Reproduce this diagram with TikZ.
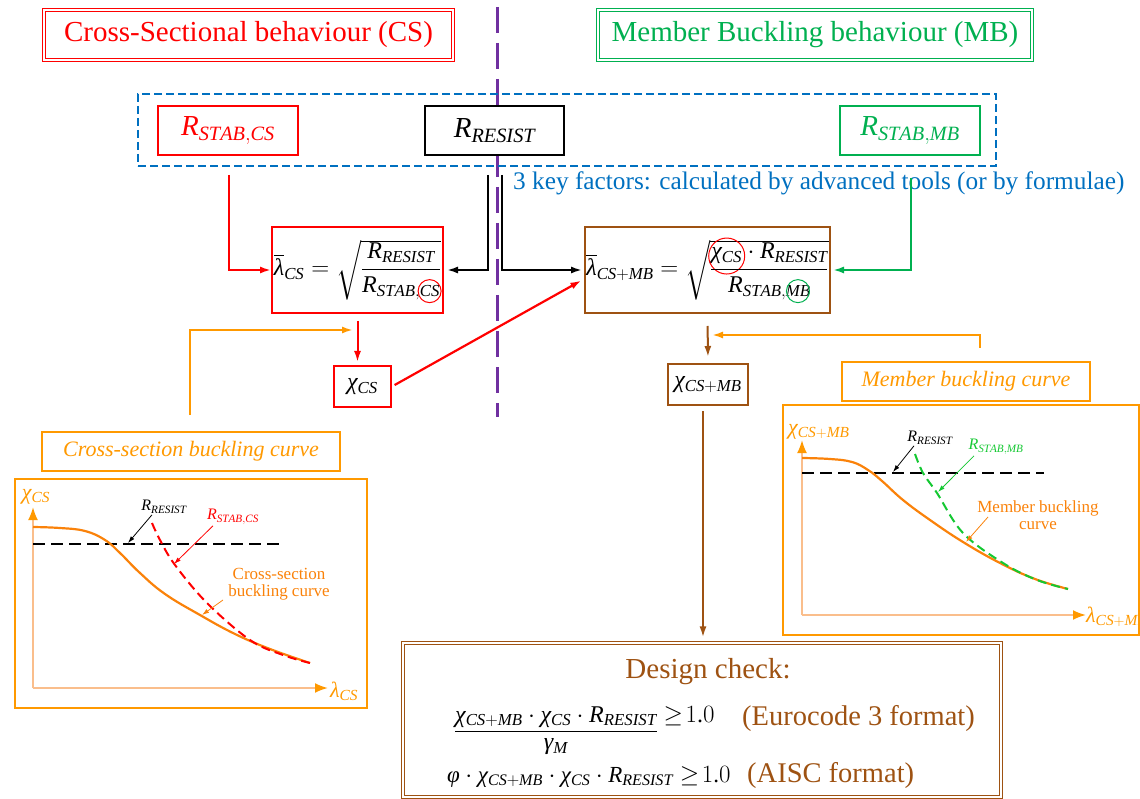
\documentclass[tikz,border=0pt]{standalone}
\usepackage{exscale}
\usepackage{fontspec}
\setmainfont{Liberation Serif}[NFSSFamily=libser]
\DeclareSymbolFont{tletters}{TU}{libser}{m}{it}
\DeclareSymbolFont{tup}{TU}{libser}{m}{n}
\newcount\mylc
\mylc=`A \loop \Umathcode\mylc="7 \symtletters\mylc \ifnum\mylc<`Z \advance\mylc 1 \repeat
\mylc=`a \loop \Umathcode\mylc="7 \symtletters\mylc \ifnum\mylc<`z \advance\mylc 1 \repeat
\mylc=`0 \loop \Umathcode\mylc="7 \symtup\mylc \ifnum\mylc<`9 \advance\mylc 1 \repeat
\Umathcode`.="0 \symtup `.
\Umathchardef\chi="7 \symtletters "03C7
\Umathchardef\lambda="7 \symtletters "03BB
\Umathchardef\gamma="7 \symtletters "03B3
\Umathchardef\phi="7 \symtletters "03C6
\usetikzlibrary{arrows.meta,calc}
\definecolor{cred}{RGB}{255,0,0}
\definecolor{cgreen}{RGB}{0,176,80}
\definecolor{cgreenl}{RGB}{20,200,50}
\definecolor{cblue}{RGB}{0,112,192}
\definecolor{corange}{RGB}{255,153,0}
\definecolor{ccurve}{RGB}{250,130,10}
\definecolor{caxis}{RGB}{250,190,140}
\definecolor{cbrown}{RGB}{158,82,18}
\definecolor{cpurple}{RGB}{112,48,160}
\newcommand\fsz[1]{\fontsize{#1}{#1}\selectfont}
\tikzset{plainn/.style={draw=none,fill=none,inner sep=0pt,outer sep=0pt,minimum width=0pt,minimum height=0pt,anchor=center}}
\newcommand\circover[3]{\tikz[baseline=(cc.base)]{\node[plainn](cc){#3};\draw[draw=#1,line width=1pt,overlay] (cc.center) circle[radius=#2];}}
\begin{document}
\begin{tikzpicture}[x=1pt,y=-1pt,
  hdr/.style={draw,line width=1.1pt,double=white,double distance=1.6pt,fill=white,minimum height=50,inner sep=0pt,font=\fsz{29}},
  kbox/.style={draw,line width=2pt,fill=white,minimum height=49,minimum width=140,inner sep=0pt,font=\fsz{29}},
  fbox/.style={draw,line width=2pt,fill=white,inner sep=0pt,font=\fsz{24}},
  lbl/.style={draw=corange,line width=2pt,text=corange,fill=white,inner sep=0pt,minimum height=39,font=\fsz{22}\itshape},
  arr/.style={-{Latex[length=11pt,width=7pt]},line width=2pt},
  sarr/.style={-{Latex[length=7pt,width=4.5pt]},line width=0.8pt},
  axis/.style={caxis,line width=2pt,-{Latex[length=13pt,width=10pt,color=corange]}},
  refline/.style={black,line width=1.6pt,dash pattern=on 12pt off 6pt},
  small/.style={font=\fsz{16},inner sep=1pt}
]
\useasboundingbox (0,0) rectangle (1140,799);

% divider
\draw[cpurple,line width=3pt,dash pattern=on 26pt off 10pt] (497,7) -- (497,417);

% headers
\node[hdr,draw=cred,text=cred,minimum width=409] (hcs) at (248.5,35) {Cross-Sectional behaviour (CS)};
\node[hdr,draw=cgreen,text=cgreen,minimum width=434] (hmb) at (815,35) {Member Buckling behaviour (MB)};

% key factors
\node[draw=cblue,line width=2pt,dash pattern=on 8pt off 4pt,minimum width=858,minimum height=72,inner sep=0pt] (keyarea) at (567,130) {};
\node[kbox,draw=cred,text=cred] (rcs) at (228,130.5) {$R_{STAB,CS}$};
\node[kbox,draw=black,minimum width=139] (rres) at (494.5,130.5) {$R_{RESIST}$};
\node[kbox,draw=cgreen,text=cgreen] (rmbk) at (910,130.5) {$R_{STAB,MB}$};
\node[text=cblue,font=\fsz{25.3},anchor=west,inner sep=0pt] (keytxt) at (513,183) {3 key factors: calculated by advanced tools (or by formulae)};

% formula boxes
\node[fbox,draw=cred,minimum width=171,minimum height=86] (lcs) at (357.5,270)
  {$\overline{\lambda}_{CS}=\sqrt{\displaystyle\frac{R_{RESIST}}{R_{STAB,\circover{cred}{11.5}{$\scriptstyle CS$}}}}$};
\node[fbox,draw=cbrown,minimum width=245,minimum height=86] (rmb) at (707.5,270)
  {$\overline{\lambda}_{CS+MB}=\sqrt{\displaystyle\frac{\circover{cred}{18}{$\chi_{CS}$}\cdot R_{RESIST}}{R_{STAB,\circover{cgreen}{11.5}{$\scriptstyle MB$}}}}$};
\node[fbox,draw=cred,minimum width=57,minimum height=41] (chics) at (362.5,386.5) {$\chi_{CS}$};
\node[fbox,draw=cbrown,minimum width=80,minimum height=41] (chimb) at (708,384.5) {$\chi_{CS+MB}$};

% connector coordinates
\coordinate (rcsout) at (229,175);
\coordinate (resoutl) at (488,175);
\coordinate (resoutr) at (502,175);
\coordinate (mbout) at (911,178);
\coordinate (cso) at (190,415);
\coordinate (csend) at (353,330);
\coordinate (mbo) at (980,348);
\coordinate (mbend) at (712,335);

\draw[arr,cred] (rcsout) |- (lcs.west);
\draw[arr,black,shorten >=3pt] (resoutl) |- (lcs.east);
\draw[arr,black,shorten >=2pt] (resoutr) |- (rmb.west);
\draw[arr,cgreen,shorten >=2pt] (mbout) |- (rmb.east);
\draw[arr,cred,shorten <=7pt,shorten >=3pt] (lcs.south) -- (lcs.south |- chics.north);
\draw[arr,corange] (cso) |- (csend);
\draw[arr,cred,line width=2.2pt,shorten <=3pt,shorten >=3pt] (chics.east) -- ([yshift=-9pt]rmb.west);
\draw[arr,cbrown,shorten <=12pt,shorten >=6pt] (rmb.south) -- (chimb.north);
\draw[arr,corange] (mbo) |- (mbend);

% labels of the charts
\node[lbl,minimum width=298] (cslbl) at (191,451.5) {Cross-section buckling curve};
\node[lbl,minimum width=248] (mblbl) at (966,381.5) {Member buckling curve};

% left chart
\draw[corange,line width=2pt] (15,479) rectangle (367,708);
\draw[axis] (33,688) -- (33,507);
\draw[axis] (33,688) -- (328,688);
\node[text=corange,font=\fsz{22},inner sep=0pt] (lya) at (36,497) {$\chi_{CS}$};
\node[text=corange,font=\fsz{22},inner sep=0pt] (lxa) at (344,691) {$\lambda_{CS}$};
\draw[refline] (33,544) -- (284,544);
\draw[ccurve,line width=2.2pt] plot[smooth,tension=0.7] coordinates {(33,527) (60,528) (85,531) (105,540) (120,553) (140,573) (165,594) (200,615) (235,634) (270,649) (310,663)};
\draw[cred,line width=2pt,dash pattern=on 9pt off 5pt] plot[smooth,tension=0.6] coordinates {(152,523) (160,540) (175,565) (207,603) (250,640) (283,655) (310,663)};
\node[small] (lres) at (164,507) {$R_{RESIST}$};
\node[small,text=cred] (lstab) at (233,517) {$R_{STAB,CS}$};
\node[font=\fsz{17},text=ccurve,align=center,inner sep=0pt] (lcurve) at (279,584) {Cross-section\\buckling curve};
\coordinate (lrest) at (128,543);
\coordinate (lstabt) at (174,564);
\coordinate (lcurvet) at (202,615);
\draw[sarr,black] ([xshift=-12pt]lres.south) -- (lrest);
\draw[sarr,cred] ([xshift=-20pt]lstab.south) -- (lstabt);
\draw[sarr,ccurve] (223,600) -- (lcurvet);

% right chart
\draw[corange,line width=2pt] (783,405) rectangle (1139,635);
\draw[axis] (802,615) -- (802,440);
\draw[axis] (802,615) -- (1086,615);
\node[text=corange,font=\fsz{22},inner sep=0pt,anchor=west] (rya) at (788,432) {$\chi_{CS+MB}$};
\node[text=corange,font=\fsz{22},inner sep=0pt,anchor=west] (rxa) at (1086,617) {$\lambda_{CS+MB}$};
\draw[refline] (802,473) -- (1044,473);
\draw[ccurve,line width=2.2pt] plot[smooth,tension=0.7] coordinates {(802,458) (830,459) (852,462) (868,470) (882,481) (903,500) (930,520) (963,542) (1000,563) (1035,579) (1068,589)};
\draw[cgreenl,line width=2pt,dash pattern=on 9pt off 5pt] plot[smooth,tension=0.6] coordinates {(915,454) (923,473) (937,493) (963,533) (1003,563) (1037,580) (1068,589)};
\node[small] (mres) at (930,438) {$R_{RESIST}$};
\node[small,text=cgreenl] (mstab) at (996,447) {$R_{STAB,MB}$};
\node[font=\fsz{17},text=ccurve,align=center,inner sep=0pt] (mcurve) at (1038,515) {Member buckling\\curve};
\coordinate (mrest) at (893,472);
\coordinate (mstabt) at (938,492);
\coordinate (mcurvet) at (966,542);
\draw[sarr,black] ([xshift=-16pt]mres.south) -- (mrest);
\draw[sarr,cgreenl] ([xshift=-22pt]mstab.south) -- (mstabt);
\draw[sarr,ccurve] (988,517) -- (mcurvet);

% design check
\node[draw=cbrown,line width=1.2pt,double=white,double distance=1.6pt,minimum width=598,minimum height=154,inner sep=0pt] (design) at (702,720) {};
\draw[arr,cbrown,shorten <=5pt,shorten >=5pt] ([xshift=-5pt]chimb.south) -- ([xshift=-5pt]chimb.south |- design.north);
\node[text=cbrown,font=\fsz{29},inner sep=0pt] (dtitle) at (708,672) {Design check:};
\node[font=\fsz{24},anchor=base west,inner sep=0pt] (ec3) at (455,722)
  {$\begin{array}[t]{@{}c@{}}\chi_{CS+MB}\cdot\chi_{CS}\cdot R_{RESIST}\\[2pt]\hline\rule{0pt}{18pt}\gamma_{M}\end{array}\mathrel{\geq}\!1.0$};
\node[text=cbrown,font=\fsz{28.5},anchor=base west,inner sep=0pt] (ec3t) at (742,725) {(Eurocode 3 format)};
\node[font=\fsz{23},anchor=base west,inner sep=0pt] (aisc) at (447,782)
  {$\phi\cdot\chi_{CS+MB}\cdot\chi_{CS}\cdot R_{RESIST}\mathrel{\geq}\!1.0$};
\node[text=cbrown,font=\fsz{28.5},anchor=base west,inner sep=0pt] (aisct) at (747,782) {(AISC format)};
\end{tikzpicture}
\end{document}
